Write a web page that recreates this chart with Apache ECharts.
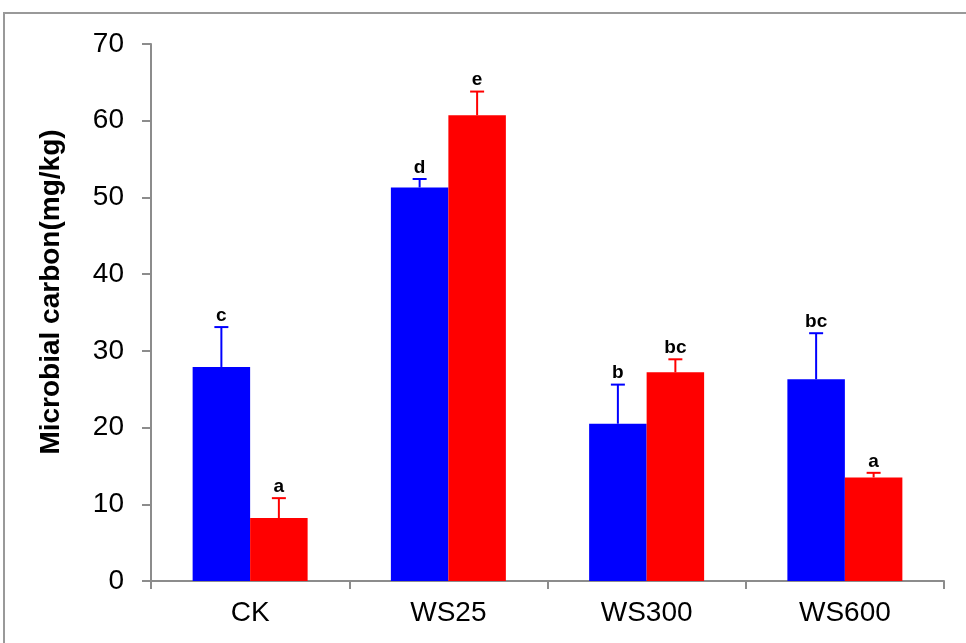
<!DOCTYPE html>
<html>
<head>
<meta charset="utf-8">
<script src="https://cdn.jsdelivr.net/npm/echarts@6/dist/echarts.min.js"></script>
<style>
  html, body { margin: 0; padding: 0; background: #fff; }
  #main { width: 966px; height: 643px; }
</style>
</head>
<body>
<div id="main"></div>
<script>
// treatments on the x axis
var categories = ['CK', 'WS25', 'WS300', 'WS600'];
// blue series (first bar in each group) and its error / letters
var blueValues = [27.9, 51.3, 20.5, 26.3];
var blueErrors = [5.2, 1.1, 5.1, 6.0];
var blueLetters = ['c', 'd', 'b', 'bc'];
// red series (second bar)
var redValues = [8.2, 60.7, 27.2, 13.5];
var redErrors = [2.6, 3.1, 1.7, 0.6];
var redLetters = ['a', 'e', 'bc', 'a'];
var yTicks = { min: 0, max: 70, interval: 10 };
var yTitle = 'Microbial carbon(mg/kg)';

var BLUE = '#0000ff', RED = '#ff0000';
var GAP = 0.42; // barCategoryGap
var FONT = '"Liberation Sans", Arial, sans-serif';

function errorData(values, errors, letters) {
  return values.map(function (v, i) { return [i, v, v + errors[i], letters[i]]; });
}

function errorSeries(values, errors, letters, color, side) {
  return {
    type: 'custom',
    z: 5,
    data: errorData(values, errors, letters),
    renderItem: function (params, api) {
      var band = api.size([1, 0])[0];
      var off = side * band * (1 - GAP) / 4;
      var base = api.coord([api.value(0), api.value(1)]);
      var top = api.coord([api.value(0), api.value(2)]);
      var x = base[0] + off;
      var cap = 7;
      return {
        type: 'group',
        children: [
          { type: 'line', shape: { x1: x, y1: base[1], x2: x, y2: top[1] },
            style: { stroke: color, lineWidth: 2 } },
          { type: 'line', shape: { x1: x - cap, y1: top[1], x2: x + cap, y2: top[1] },
            style: { stroke: color, lineWidth: 2 } },
          { type: 'text', x: x, y: top[1] - 2,
            style: { text: api.value(3), fill: '#000', fontFamily: FONT,
                     fontSize: 19, fontWeight: 'bold',
                     align: 'center', verticalAlign: 'bottom' } }
        ]
      };
    }
  };
}

var chart = echarts.init(document.getElementById('main'));
chart.setOption({
  animation: false,
  backgroundColor: '#fff',
  textStyle: { fontFamily: FONT },
  graphic: [{
    type: 'rect', silent: true, z: -1,
    shape: { x: 4, y: 13, width: 1000, height: 700 },
    style: { fill: 'none', stroke: '#999', lineWidth: 2 }
  }, {
    type: 'text', silent: true,
    x: 51, y: 292, rotation: Math.PI / 2,
    style: { text: yTitle, fill: '#000', fontFamily: FONT, fontSize: 28, fontWeight: 'bold',
             align: 'center', verticalAlign: 'middle' }
  }],
  grid: { left: 151, right: 22, top: 44, bottom: 62 },
  xAxis: {
    type: 'category',
    data: categories,
    axisLine: { lineStyle: { color: '#8c8c8c', width: 2 } },
    axisTick: { show: true, length: 8, lineStyle: { color: '#8c8c8c', width: 2 } },
    axisLabel: { color: '#000', fontSize: 28, margin: 18 }
  },
  yAxis: {
    type: 'value',
    min: yTicks.min, max: yTicks.max, interval: yTicks.interval,
    splitLine: { show: false },
    axisLine: { show: true, lineStyle: { color: '#8c8c8c', width: 2 } },
    axisTick: { show: true, length: 9, lineStyle: { color: '#8c8c8c', width: 2 } },
    axisLabel: { color: '#000', fontSize: 28, margin: 27 }
  },
  series: [
    { type: 'bar', data: blueValues, barGap: '0%', barCategoryGap: '42%',
      itemStyle: { color: BLUE } },
    { type: 'bar', data: redValues, barGap: '0%', barCategoryGap: '42%',
      itemStyle: { color: RED } },
    errorSeries(blueValues, blueErrors, blueLetters, BLUE, -1),
    errorSeries(redValues, redErrors, redLetters, RED, 1)
  ]
});
</script>
</body>
</html>
